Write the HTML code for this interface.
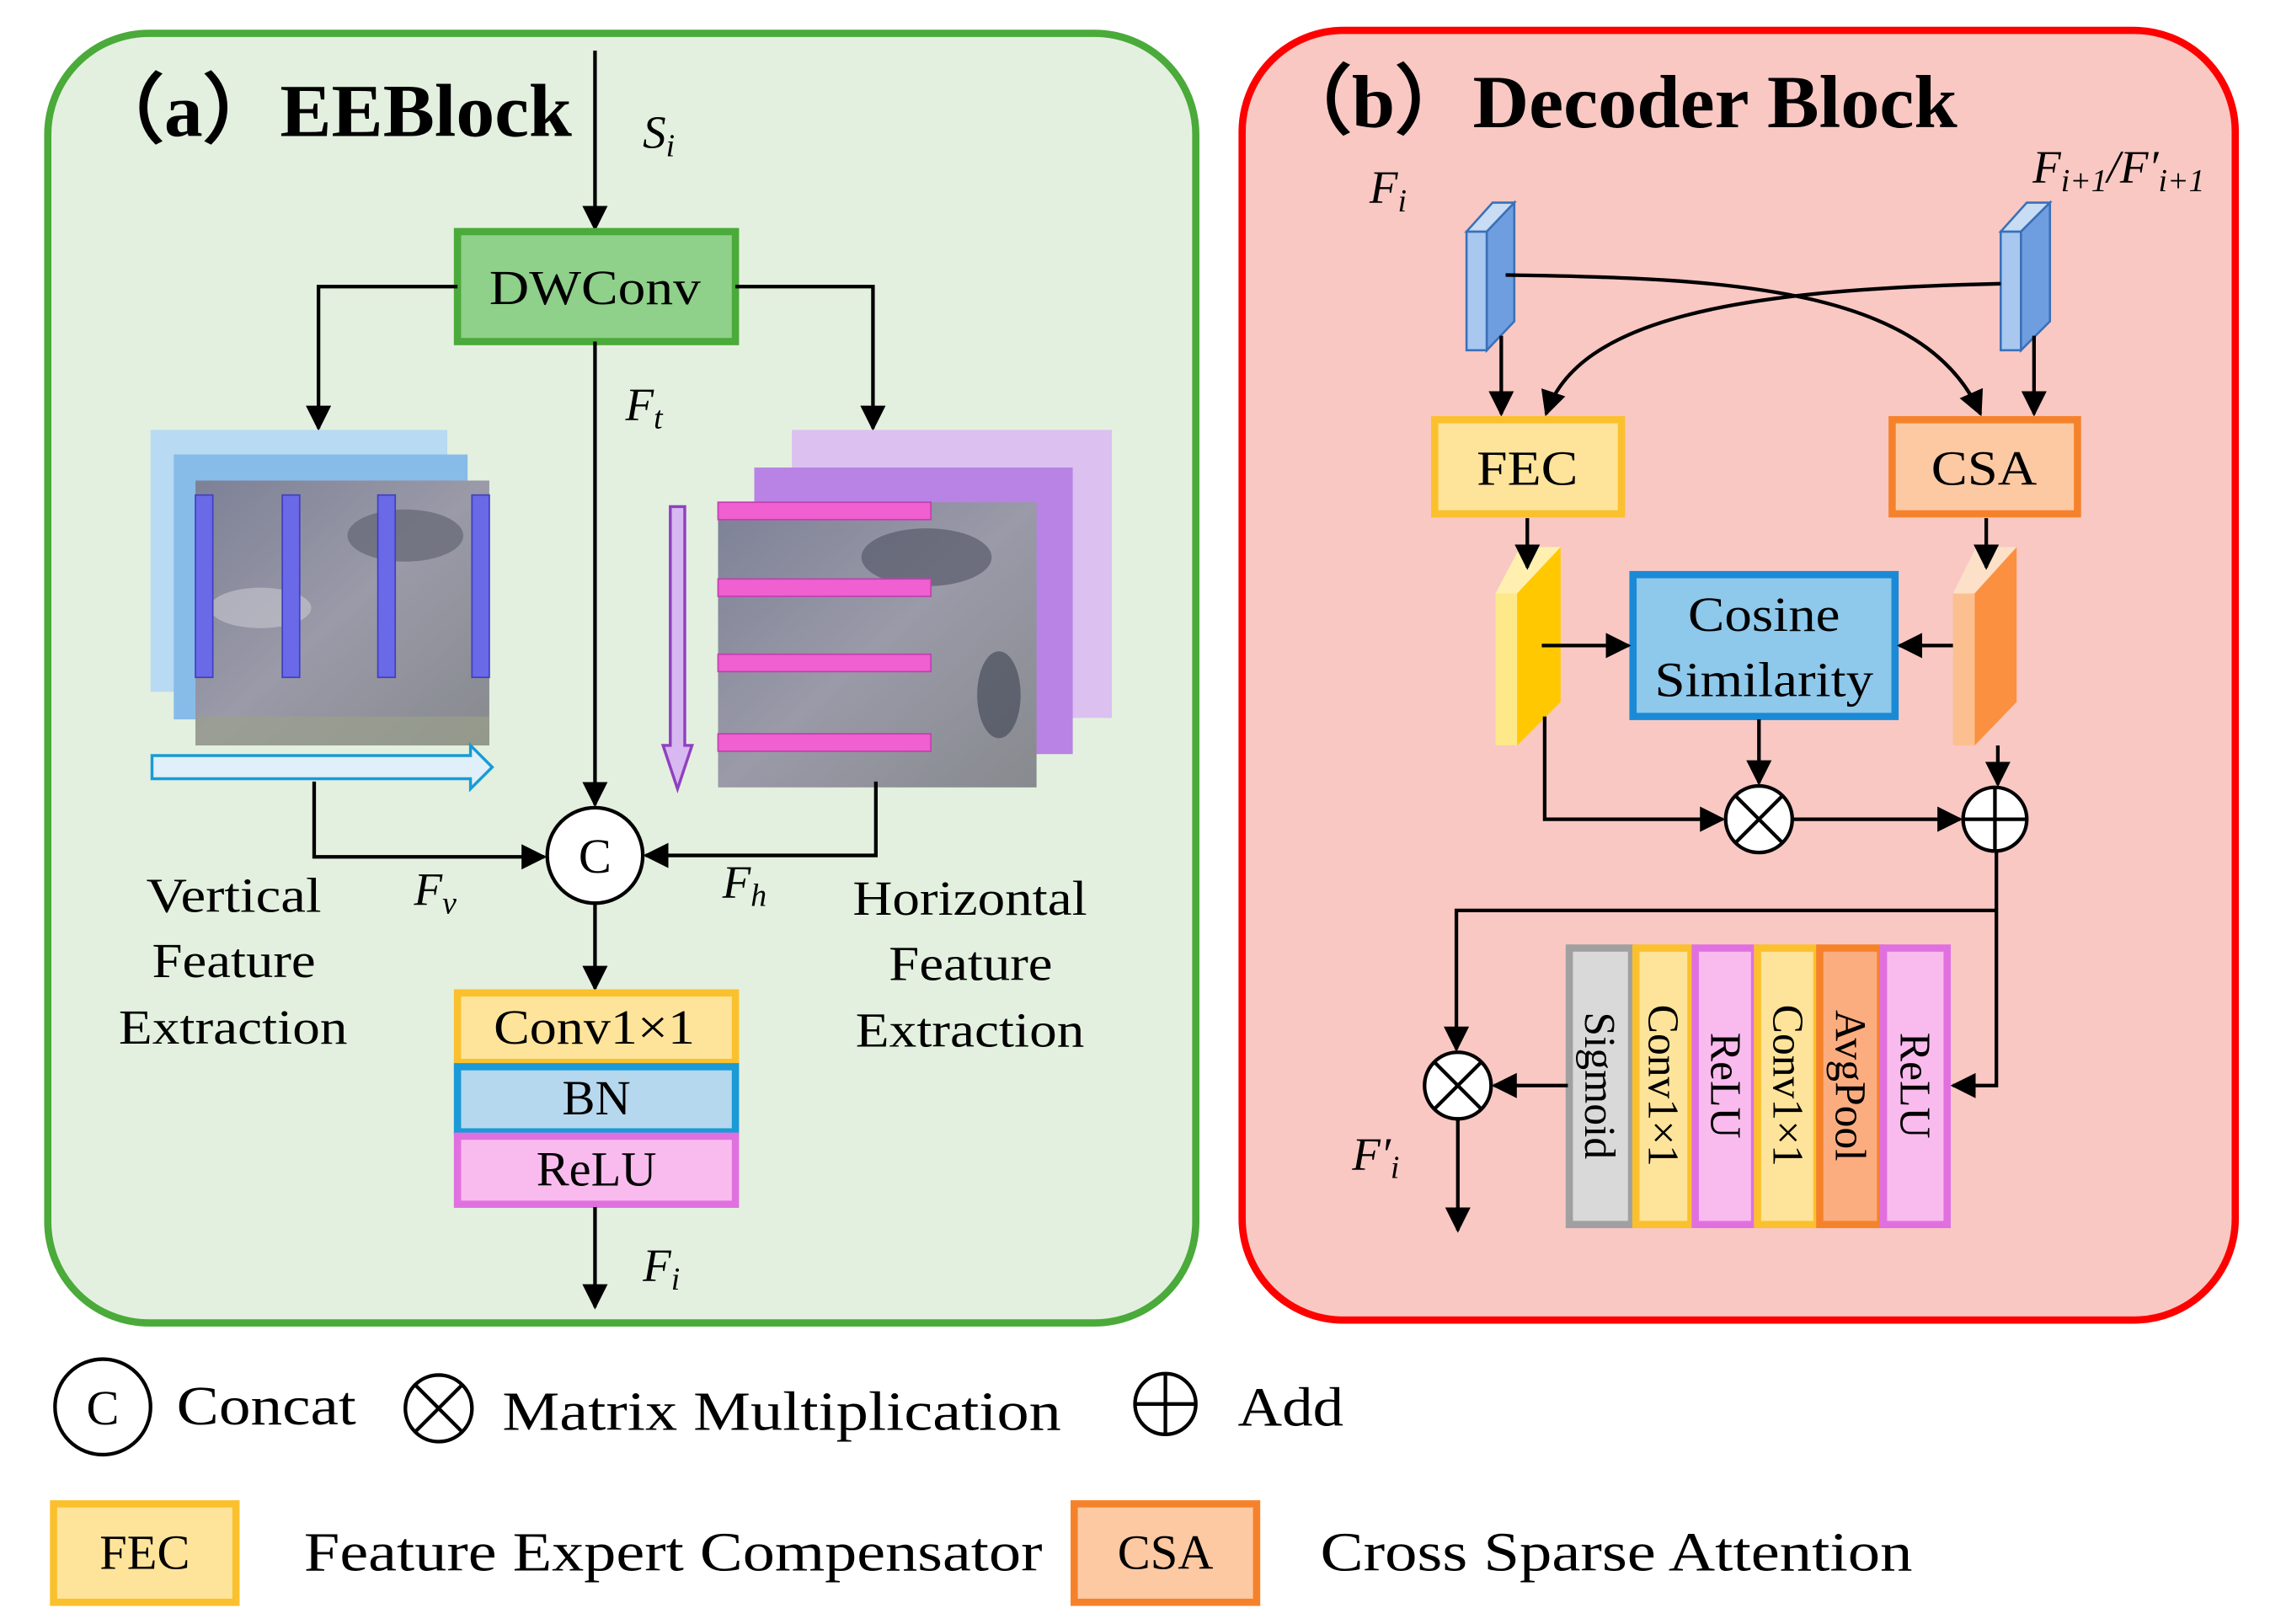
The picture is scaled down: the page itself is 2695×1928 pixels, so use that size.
<!DOCTYPE html>
<html><head><meta charset="utf-8"><style>
html,body{margin:0;padding:0;background:#fff}
svg{display:block}
text{font-family:"Liberation Serif",serif;fill:#000}
</style></head><body>
<svg width="2695" height="1928" viewBox="0 0 1568 1122" preserveAspectRatio="none" xmlns="http://www.w3.org/2000/svg">
<defs>
<marker id="ar" viewBox="0 0 10 10" refX="9" refY="5" markerWidth="7" markerHeight="7" orient="auto"><path d="M0,0 L10,5 L0,10 z" fill="#000"/></marker>
<linearGradient id="img" x1="0" y1="0" x2="1" y2="1"><stop offset="0" stop-color="#7d8196"/><stop offset="0.5" stop-color="#9a9aa8"/><stop offset="1" stop-color="#878a8e"/></linearGradient>
</defs>
<!-- Panel a -->
<rect x="33" y="23" width="793" height="891" rx="70" fill="#e3f0df" stroke="#4aaa3a" stroke-width="5"/>
<text x="60" y="94" font-size="52" font-weight="bold" textLength="335" lengthAdjust="spacingAndGlyphs">（a）EEBlock</text>
<line x1="411" y1="35" x2="411" y2="158" stroke="#000" stroke-width="2.5" marker-end="url(#ar)"/>
<text x="444" y="102" font-size="32" font-style="italic">S<tspan font-size="22" dy="6">i</tspan></text>
<rect x="316" y="160" width="192" height="76" fill="#8fd08a" stroke="#4aaa3a" stroke-width="5"/>
<text x="338" y="210" font-size="34" textLength="146" lengthAdjust="spacingAndGlyphs">DWConv</text>
<polyline points="316,198 220,198 220,296" fill="none" stroke="#000" stroke-width="2.5" marker-end="url(#ar)"/>
<polyline points="508,198 603,198 603,296" fill="none" stroke="#000" stroke-width="2.5" marker-end="url(#ar)"/>
<line x1="411" y1="236" x2="411" y2="556" stroke="#000" stroke-width="2.5" marker-end="url(#ar)"/>
<text x="432" y="290" font-size="32" font-style="italic">F<tspan font-size="22" dy="6">t</tspan></text>
<!-- left stack -->
<rect x="104" y="297" width="205" height="181" fill="#b8daf2"/>
<rect x="120" y="314" width="203" height="183" fill="#88bce8"/>
<rect x="135" y="332" width="203" height="183" fill="url(#img)"/>
<ellipse cx="280" cy="370" rx="40" ry="18" fill="#5a5d6a" opacity="0.6"/>
<ellipse cx="180" cy="420" rx="35" ry="14" fill="#c8c8d0" opacity="0.6"/>
<rect x="135" y="495" width="203" height="20" fill="#9aa08c" opacity="0.7"/>
<g fill="#6a6ae8" stroke="#4040c0" stroke-width="1">
<rect x="135" y="342" width="12" height="126"/><rect x="195" y="342" width="12" height="126"/><rect x="261" y="342" width="12" height="126"/><rect x="326" y="342" width="12" height="126"/>
</g>
<path d="M105,522 L325,522 L325,515 L340,530 L325,545 L325,538 L105,538 Z" fill="#dff0fa" stroke="#1a9ad6" stroke-width="2"/>
<!-- right stack -->
<rect x="547" y="297" width="221" height="199" fill="#dcc0f0"/>
<rect x="521" y="323" width="220" height="198" fill="#b883e4"/>
<rect x="496" y="347" width="220" height="197" fill="url(#img)"/>
<ellipse cx="640" cy="385" rx="45" ry="20" fill="#4e5262" opacity="0.6"/>
<ellipse cx="690" cy="480" rx="15" ry="30" fill="#3e4252" opacity="0.6"/>
<g fill="#f060d0" stroke="#c040b0" stroke-width="1">
<rect x="496" y="347" width="147" height="12"/><rect x="496" y="400" width="147" height="12"/><rect x="496" y="452" width="147" height="12"/><rect x="496" y="507" width="147" height="12"/>
</g>
<path d="M463,350 L473,350 L473,515 L478,515 L468,545 L458,515 L463,515 Z" fill="#d8b8f0" stroke="#9040c0" stroke-width="2"/>
<polyline points="217,540 217,592 376,592" fill="none" stroke="#000" stroke-width="2.5" marker-end="url(#ar)"/>
<polyline points="605,540 605,591 446,591" fill="none" stroke="#000" stroke-width="2.5" marker-end="url(#ar)"/>
<circle cx="411" cy="591" r="33" fill="#fff" stroke="#000" stroke-width="2.5"/>
<text x="411" y="603" font-size="34" text-anchor="middle">C</text>
<text x="286" y="625" font-size="32" font-style="italic">F<tspan font-size="22" dy="6">v</tspan></text>
<text x="499" y="620" font-size="32" font-style="italic">F<tspan font-size="22" dy="6">h</tspan></text>
<g font-size="34">
<text x="101" y="630" textLength="121" lengthAdjust="spacingAndGlyphs">Vertical</text>
<text x="105" y="675" textLength="113" lengthAdjust="spacingAndGlyphs">Feature</text>
<text x="82" y="721" textLength="158" lengthAdjust="spacingAndGlyphs">Extraction</text>
<text x="589" y="632" textLength="162" lengthAdjust="spacingAndGlyphs">Horizontal</text>
<text x="614" y="677" textLength="113" lengthAdjust="spacingAndGlyphs">Feature</text>
<text x="591" y="723" textLength="158" lengthAdjust="spacingAndGlyphs">Extraction</text>
</g>
<line x1="411" y1="624" x2="411" y2="683" stroke="#000" stroke-width="2.5" marker-end="url(#ar)"/>
<rect x="316" y="686" width="192" height="48" fill="#fde49a" stroke="#fbc02d" stroke-width="5"/>
<text x="341" y="721" font-size="34" textLength="139" lengthAdjust="spacingAndGlyphs">Conv1×1</text>
<rect x="316" y="737" width="192" height="45" fill="#b5d8ee" stroke="#1a9ad6" stroke-width="5"/>
<text x="412" y="770" font-size="34" text-anchor="middle">BN</text>
<rect x="316" y="785" width="192" height="47" fill="#f9bbee" stroke="#e070e0" stroke-width="5"/>
<text x="412" y="819" font-size="34" text-anchor="middle">ReLU</text>
<line x1="411" y1="834" x2="411" y2="903" stroke="#000" stroke-width="2.5" marker-end="url(#ar)"/>
<text x="444" y="885" font-size="32" font-style="italic">F<tspan font-size="22" dy="6">i</tspan></text>
<!-- Panel b -->
<rect x="858" y="21" width="686" height="891" rx="70" fill="#f9c8c3" stroke="#f00" stroke-width="5"/>
<text x="880" y="88" font-size="52" font-weight="bold" textLength="472" lengthAdjust="spacingAndGlyphs">（b）Decoder Block</text>
<text x="946" y="140" font-size="32" font-style="italic">F<tspan font-size="22" dy="6">i</tspan></text>
<text x="1404" y="126" font-size="32" font-style="italic">F<tspan font-size="22" dy="6">i+1</tspan><tspan dy="-6">/F′</tspan><tspan font-size="22" dy="6">i+1</tspan></text>
<!-- blue slabs -->
<g stroke="#3a70b8" stroke-width="1.5">
<polygon points="1013,160 1027,160 1027,242 1013,242" fill="#a8c8f0"/>
<polygon points="1013,160 1031,140 1046,140 1027,160" fill="#c8dcf4"/>
<polygon points="1027,160 1046,140 1046,222 1027,242" fill="#6f9ee0"/>
<polygon points="1382,160 1396,160 1396,242 1382,242" fill="#a8c8f0"/>
<polygon points="1382,160 1400,140 1416,140 1396,160" fill="#c8dcf4"/>
<polygon points="1396,160 1416,140 1416,222 1396,242" fill="#6f9ee0"/>
</g>
<path d="M1040,190 C1200,192 1330,200 1368,286" fill="none" stroke="#000" stroke-width="2.5" marker-end="url(#ar)"/>
<path d="M1382,196 C1200,200 1090,220 1068,286" fill="none" stroke="#000" stroke-width="2.5" marker-end="url(#ar)"/>
<line x1="1037" y1="232" x2="1037" y2="286" stroke="#000" stroke-width="2.5" marker-end="url(#ar)"/>
<line x1="1405" y1="232" x2="1405" y2="286" stroke="#000" stroke-width="2.5" marker-end="url(#ar)"/>
<rect x="991" y="290" width="129" height="65" fill="#fde49a" stroke="#fbc02d" stroke-width="5"/>
<text x="1020" y="335" font-size="34" textLength="70" lengthAdjust="spacingAndGlyphs">FEC</text>
<rect x="1307" y="290" width="128" height="65" fill="#fcc9a3" stroke="#f5822b" stroke-width="5"/>
<text x="1334" y="335" font-size="34" textLength="73" lengthAdjust="spacingAndGlyphs">CSA</text>
<!-- yellow/orange slabs -->
<polygon points="1033,410 1048,410 1048,515 1033,515" fill="#fde88a"/>
<polygon points="1033,410 1050,378 1078,378 1048,410" fill="#fff0b0"/>
<polygon points="1048,410 1078,378 1078,485 1048,515" fill="#ffc800"/>
<polygon points="1349,410 1364,410 1364,515 1349,515" fill="#fcc090"/>
<polygon points="1349,410 1365,378 1393,378 1364,410" fill="#fde0c8"/>
<polygon points="1364,410 1393,378 1393,485 1364,515" fill="#fa9040"/>
<line x1="1055" y1="358" x2="1055" y2="392" stroke="#000" stroke-width="2.5" marker-end="url(#ar)"/>
<line x1="1372" y1="358" x2="1372" y2="392" stroke="#000" stroke-width="2.5" marker-end="url(#ar)"/>
<rect x="1128" y="397" width="181" height="98" fill="#8ec8ea" stroke="#1a8ad6" stroke-width="5"/>
<text x="1166" y="436" font-size="34" textLength="105" lengthAdjust="spacingAndGlyphs">Cosine</text>
<text x="1143" y="481" font-size="34" textLength="151" lengthAdjust="spacingAndGlyphs">Similarity</text>
<line x1="1065" y1="446" x2="1125" y2="446" stroke="#000" stroke-width="2.5" marker-end="url(#ar)"/>
<line x1="1349" y1="446" x2="1312" y2="446" stroke="#000" stroke-width="2.5" marker-end="url(#ar)"/>
<line x1="1215" y1="497" x2="1215" y2="541" stroke="#000" stroke-width="2.5" marker-end="url(#ar)"/>
<polyline points="1067,495 1067,566 1190,566" fill="none" stroke="#000" stroke-width="2.5" marker-end="url(#ar)"/>
<line x1="1238" y1="566" x2="1354" y2="566" stroke="#000" stroke-width="2.5" marker-end="url(#ar)"/>
<line x1="1380" y1="515" x2="1380" y2="542" stroke="#000" stroke-width="2.5" marker-end="url(#ar)"/>
<g fill="#fff" stroke="#000" stroke-width="2.5">
<circle cx="1215" cy="566" r="23"/><line x1="1199" y1="550" x2="1231" y2="582"/><line x1="1231" y1="550" x2="1199" y2="582"/>
<circle cx="1378" cy="566" r="22"/><line x1="1356" y1="566" x2="1400" y2="566"/><line x1="1378" y1="544" x2="1378" y2="588"/>
</g>
<polyline points="1379,588 1379,750 1349,750" fill="none" stroke="#000" stroke-width="2.5" marker-end="url(#ar)"/>
<polyline points="1379,629 1006,629 1006,725" fill="none" stroke="#000" stroke-width="2.5" marker-end="url(#ar)"/>
<!-- vertical stack -->
<g stroke-width="5">
<rect x="1084" y="655" width="43" height="191" fill="#d9d9d9" stroke="#a0a0a0"/>
<rect x="1130" y="655" width="38" height="191" fill="#fde49a" stroke="#fbc02d"/>
<rect x="1171" y="655" width="41" height="191" fill="#f9bbee" stroke="#e070e0"/>
<rect x="1214" y="655" width="41" height="191" fill="#fde49a" stroke="#fbc02d"/>
<rect x="1257" y="655" width="42" height="191" fill="#fcad80" stroke="#f5822b"/>
<rect x="1301" y="655" width="44" height="191" fill="#f9bbee" stroke="#e070e0"/>
</g>
<g font-size="30" text-anchor="middle">
<text transform="translate(1095,750) rotate(90)">Sigmoid</text>
<text transform="translate(1139,750) rotate(90)">Conv1×1</text>
<text transform="translate(1182,750) rotate(90)">ReLU</text>
<text transform="translate(1225,750) rotate(90)">Conv1×1</text>
<text transform="translate(1268,750) rotate(90)">AvgPool</text>
<text transform="translate(1313,750) rotate(90)">ReLU</text>
</g>
<line x1="1083" y1="750" x2="1032" y2="750" stroke="#000" stroke-width="2.5" marker-end="url(#ar)"/>
<g fill="#fff" stroke="#000" stroke-width="2.5">
<circle cx="1007" cy="750" r="23"/><line x1="991" y1="734" x2="1023" y2="766"/><line x1="1023" y1="734" x2="991" y2="766"/>
</g>
<line x1="1007" y1="773" x2="1007" y2="850" stroke="#000" stroke-width="2.5" marker-end="url(#ar)"/>
<text x="934" y="808" font-size="32" font-style="italic">F′<tspan font-size="22" dy="6">i</tspan></text>
<!-- legend -->
<circle cx="71" cy="972" r="33" fill="#fff" stroke="#000" stroke-width="2.5"/>
<text x="71" y="984" font-size="34" text-anchor="middle">C</text>
<text x="122" y="984" font-size="38" textLength="124" lengthAdjust="spacingAndGlyphs">Concat</text>
<g fill="#fff" stroke="#000" stroke-width="2.5">
<circle cx="303" cy="973" r="23"/><line x1="287" y1="957" x2="319" y2="989"/><line x1="319" y1="957" x2="287" y2="989"/>
<circle cx="805" cy="970" r="21"/><line x1="784" y1="970" x2="826" y2="970"/><line x1="805" y1="949" x2="805" y2="991"/>
</g>
<text x="347" y="988" font-size="38" textLength="386" lengthAdjust="spacingAndGlyphs">Matrix Multiplication</text>
<text x="855" y="985" font-size="38" textLength="73" lengthAdjust="spacingAndGlyphs">Add</text>
<rect x="37" y="1039" width="126" height="68" fill="#fde49a" stroke="#fbc02d" stroke-width="5"/>
<text x="100" y="1084" font-size="34" text-anchor="middle">FEC</text>
<text x="210" y="1085" font-size="38" textLength="510" lengthAdjust="spacingAndGlyphs">Feature Expert Compensator</text>
<rect x="742" y="1039" width="126" height="68" fill="#fcc9a3" stroke="#f5822b" stroke-width="5"/>
<text x="805" y="1084" font-size="34" text-anchor="middle">CSA</text>
<text x="912" y="1085" font-size="38" textLength="409" lengthAdjust="spacingAndGlyphs">Cross Sparse Attention</text>
</svg>
</body></html>
